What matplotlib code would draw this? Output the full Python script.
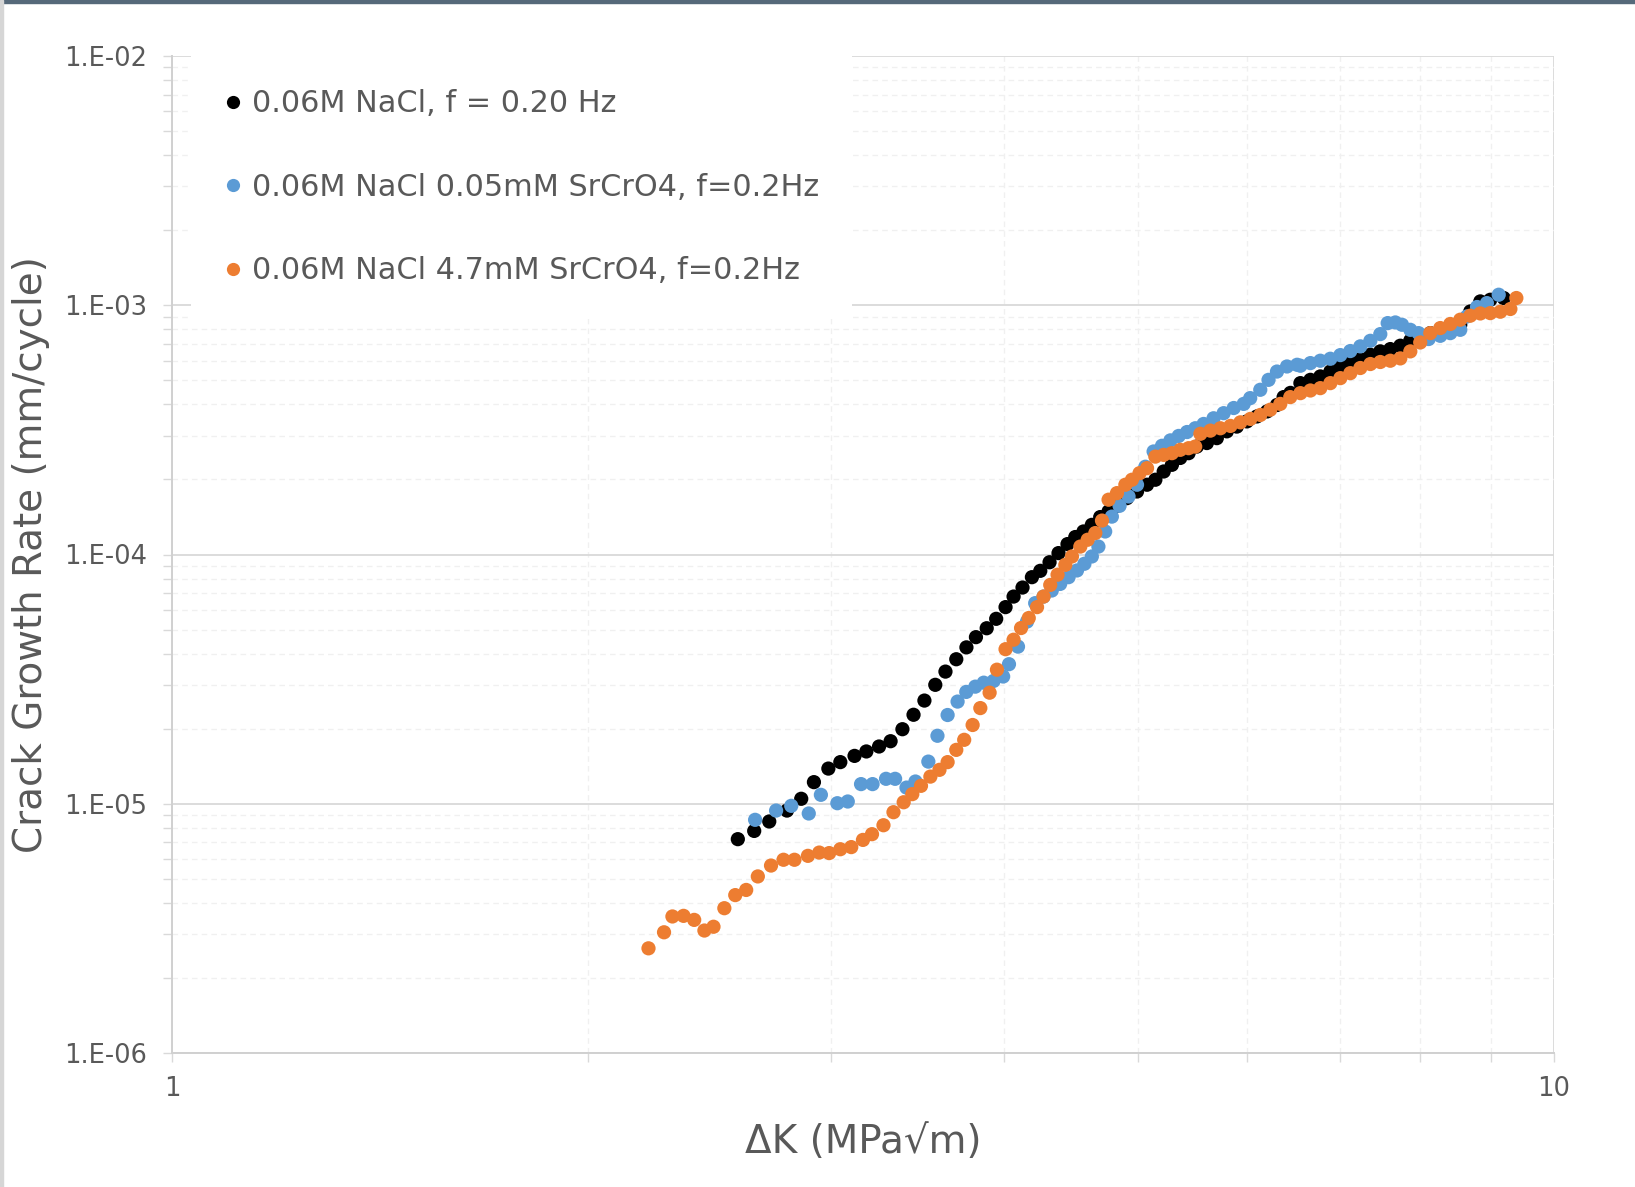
import matplotlib
matplotlib.use("Agg")
import matplotlib.pyplot as plt
from matplotlib.ticker import LogLocator, FuncFormatter, NullFormatter
from matplotlib.lines import Line2D
import numpy as np

# ---------------- data ----------------
series_labels = [
    "0.06M NaCl, f = 0.20 Hz",
    "0.06M NaCl 0.05mM SrCrO4, f=0.2Hz",
    "0.06M NaCl 4.7mM SrCrO4, f=0.2Hz",
]
series_colors = ["#000000", "#5b9bd5", "#ed7d31"]

dk_black = [2.567, 2.638, 2.705, 2.786, 2.853, 2.914, 2.985, 3.045, 3.118, 3.180,
            3.248, 3.311, 3.377, 3.440, 3.503, 3.567, 3.628, 3.694, 3.757, 3.817,
            3.886, 3.948, 4.010, 4.064, 4.125, 4.190, 4.249, 4.315, 4.380, 4.446,
            4.504, 4.566, 4.630, 4.695, 4.761, 4.828, 4.909, 4.992, 5.076, 5.147,
            5.219, 5.291, 5.365, 5.440, 5.515, 5.608, 5.702, 5.798, 5.895, 5.995,
            6.096, 6.200, 6.303, 6.373, 6.446, 6.554, 6.664, 6.775, 6.889, 7.005,
            7.122, 7.242, 7.364, 7.487, 7.613, 7.741, 7.871, 8.002, 8.137, 8.274,
            8.413, 8.554, 8.698, 8.845, 8.993, 9.196]
dadn_black = [7.21e-6, 7.78e-6, 8.49e-6, 9.39e-6, 1.047e-5, 1.221e-5, 1.384e-5, 1.469e-5, 1.556e-5, 1.621e-5,
              1.697e-5, 1.782e-5, 1.991e-5, 2.275e-5, 2.594e-5, 3.00e-5, 3.39e-5, 3.80e-5, 4.24e-5, 4.66e-5,
              5.06e-5, 5.52e-5, 6.15e-5, 6.78e-5, 7.37e-5, 8.11e-5, 8.60e-5, 9.31e-5, 1.013e-4, 1.101e-4,
              1.175e-4, 1.237e-4, 1.315e-4, 1.413e-4, 1.489e-4, 1.568e-4, 1.683e-4, 1.790e-4, 1.905e-4, 1.995e-4,
              2.153e-4, 2.29e-4, 2.44e-4, 2.55e-4, 2.71e-4, 2.80e-4, 2.93e-4, 3.12e-4, 3.26e-4, 3.42e-4,
              3.58e-4, 3.75e-4, 3.98e-4, 4.28e-4, 4.45e-4, 4.87e-4, 5.02e-4, 5.18e-4, 5.42e-4, 5.65e-4,
              5.86e-4, 6.08e-4, 6.33e-4, 6.53e-4, 6.67e-4, 6.88e-4, 7.22e-4, 7.49e-4, 7.73e-4, 7.78e-4,
              7.81e-4, 8.35e-4, 9.44e-4, 1.036e-3, 1.052e-3, 1.069e-3]

dk_blue = [2.642, 2.736, 2.806, 2.889, 2.948, 3.030, 3.083, 3.152, 3.213, 3.286,
           3.336, 3.400, 3.451, 3.526, 3.580, 3.641, 3.702, 3.756, 3.813, 3.867,
           3.931, 3.994, 4.033, 4.094, 4.156, 4.213, 4.272, 4.331, 4.392, 4.454,
           4.517, 4.573, 4.630, 4.681, 4.734, 4.787, 4.849, 4.922, 4.992, 5.062,
           5.132, 5.204, 5.278, 5.351, 5.426, 5.501, 5.578, 5.671, 5.767, 5.865,
           5.963, 6.028, 6.130, 6.215, 6.303, 6.409, 6.518, 6.554, 6.664, 6.775,
           6.889, 7.005, 7.122, 7.242, 7.364, 7.487, 7.580, 7.677, 7.763, 7.871,
           7.980, 8.115, 8.274, 8.413, 8.554, 8.650, 8.797, 8.942, 9.120]
dadn_blue = [8.62e-6, 9.39e-6, 9.81e-6, 9.14e-6, 1.086e-5, 1.005e-5, 1.021e-5, 1.199e-5, 1.199e-5, 1.259e-5,
             1.259e-5, 1.161e-5, 1.228e-5, 1.476e-5, 1.874e-5, 2.27e-5, 2.57e-5, 2.81e-5, 2.95e-5, 3.06e-5,
             3.11e-5, 3.24e-5, 3.63e-5, 4.27e-5, 5.38e-5, 6.38e-5, 6.78e-5, 7.17e-5, 7.62e-5, 8.11e-5,
             8.63e-5, 9.18e-5, 9.82e-5, 1.076e-4, 1.237e-4, 1.419e-4, 1.568e-4, 1.710e-4, 1.905e-4, 2.25e-4,
             2.59e-4, 2.73e-4, 2.87e-4, 2.99e-4, 3.10e-4, 3.21e-4, 3.34e-4, 3.52e-4, 3.69e-4, 3.87e-4,
             4.02e-4, 4.24e-4, 4.58e-4, 5.02e-4, 5.42e-4, 5.68e-4, 5.77e-4, 5.72e-4, 5.86e-4, 5.99e-4,
             6.10e-4, 6.31e-4, 6.55e-4, 6.84e-4, 7.20e-4, 7.66e-4, 8.48e-4, 8.53e-4, 8.35e-4, 7.97e-4,
             7.73e-4, 7.32e-4, 7.54e-4, 7.73e-4, 7.97e-4, 9.02e-4, 9.84e-4, 1.020e-3, 1.102e-3]

dk_orange = [2.212, 2.270, 2.302, 2.345, 2.387, 2.428, 2.465, 2.510, 2.556, 2.603,
             2.654, 2.713, 2.770, 2.821, 2.885, 2.940, 2.989, 3.045, 3.101, 3.162,
             3.210, 3.272, 3.327, 3.384, 3.433, 3.483, 3.538, 3.592, 3.641, 3.694,
             3.743, 3.796, 3.845, 3.905, 3.953, 4.010, 4.064, 4.115, 4.168, 4.226,
             4.272, 4.320, 4.373, 4.430, 4.479, 4.542, 4.598, 4.657, 4.709, 4.761,
             4.828, 4.896, 4.950, 5.013, 5.076, 5.147, 5.219, 5.291, 5.365, 5.440,
             5.500, 5.548, 5.641, 5.736, 5.833, 5.930, 6.030, 6.131, 6.233, 6.338,
             6.444, 6.554, 6.664, 6.775, 6.889, 7.005, 7.122, 7.242, 7.364, 7.487,
             7.613, 7.741, 7.871, 8.002, 8.137, 8.274, 8.413, 8.554, 8.698, 8.845,
             8.993, 9.145, 9.299, 9.392]
dadn_orange = [2.63e-6, 3.05e-6, 3.53e-6, 3.55e-6, 3.42e-6, 3.10e-6, 3.21e-6, 3.81e-6, 4.30e-6, 4.51e-6,
               5.11e-6, 5.65e-6, 5.96e-6, 5.96e-6, 6.18e-6, 6.37e-6, 6.34e-6, 6.57e-6, 6.70e-6, 7.16e-6,
               7.55e-6, 8.20e-6, 9.25e-6, 1.014e-5, 1.093e-5, 1.180e-5, 1.285e-5, 1.368e-5, 1.469e-5, 1.645e-5,
               1.805e-5, 2.07e-5, 2.42e-5, 2.79e-5, 3.45e-5, 4.17e-5, 4.55e-5, 5.07e-5, 5.56e-5, 6.15e-5,
               6.78e-5, 7.55e-5, 8.30e-5, 9.09e-5, 9.82e-5, 1.076e-4, 1.146e-4, 1.219e-4, 1.368e-4, 1.659e-4,
               1.763e-4, 1.905e-4, 1.995e-4, 2.12e-4, 2.22e-4, 2.47e-4, 2.51e-4, 2.55e-4, 2.63e-4, 2.67e-4,
               2.71e-4, 3.05e-4, 3.14e-4, 3.21e-4, 3.28e-4, 3.39e-4, 3.50e-4, 3.63e-4, 3.81e-4, 4.02e-4,
               4.28e-4, 4.44e-4, 4.55e-4, 4.65e-4, 4.87e-4, 5.10e-4, 5.34e-4, 5.60e-4, 5.81e-4, 5.92e-4,
               5.99e-4, 6.12e-4, 6.53e-4, 7.09e-4, 7.73e-4, 8.10e-4, 8.41e-4, 8.75e-4, 9.08e-4, 9.27e-4,
               9.30e-4, 9.42e-4, 9.66e-4, 1.069e-3]

x_label = "ΔK (MPa√m)"
y_label = "Crack Growth Rate (mm/cycle)"
x_limits = (1, 10)
y_limits = (1e-6, 1e-2)

# ---------------- figure ----------------
plt.rcParams['font.family'] = ['DejaVu Sans']
TXT = "#595959"
W, H = 1635, 1187
fig = plt.figure(figsize=(W / 100, H / 100), dpi=100)
ax = fig.add_axes([172 / W, 1 - 1053 / H, 1382 / W, 997 / H])

xs = [dk_black, dk_blue, dk_orange]
ys = [dadn_black, dadn_blue, dadn_orange]
for x, y, c, lab in zip(xs, ys, series_colors, series_labels):
    ax.scatter(x, y, s=105, color=c, edgecolors='none', label=lab, zorder=3)

ax.set_xscale('log')
ax.set_yscale('log')
ax.set_xlim(*x_limits)
ax.set_ylim(*y_limits)

ax.xaxis.set_major_locator(LogLocator(base=10, numticks=10))
ax.xaxis.set_minor_locator(LogLocator(base=10, subs=np.arange(2, 10), numticks=20))
ax.yaxis.set_major_locator(LogLocator(base=10, numticks=10))
ax.yaxis.set_minor_locator(LogLocator(base=10, subs=np.arange(2, 10), numticks=20))
ax.xaxis.set_major_formatter(FuncFormatter(lambda v, p: f"{v:g}"))
ax.yaxis.set_major_formatter(FuncFormatter(lambda v, p: f"1.E-{int(round(-np.log10(v))):02d}"))
ax.xaxis.set_minor_formatter(NullFormatter())
ax.yaxis.set_minor_formatter(NullFormatter())

ax.grid(which='major', color='#d9d9d9', linewidth=1.3, linestyle='-', zorder=0)
ax.grid(which='minor', color='#f0f0f0', linewidth=1.0, linestyle=(0, (4, 3)), zorder=0)
ax.set_axisbelow(True)

for s in ['top', 'right']:
    ax.spines[s].set_visible(False)
for s in ['left', 'bottom']:
    ax.spines[s].set_color('#d0d0d0')
    ax.spines[s].set_linewidth(1.4)

ax.tick_params(axis='both', which='both', direction='out', length=6.5, width=1.0,
               color='#d9d9d9', labelcolor=TXT, labelsize=18.5)
ax.tick_params(axis='y', which='major', pad=11.5)
ax.tick_params(axis='x', which='major', pad=10)

ax.set_xlabel(x_label, fontsize=28, color=TXT, va='center')
ax.set_ylabel(y_label, fontsize=28, color=TXT, va='center')
ax.xaxis.set_label_coords(0.5, -(1142 - 1053) / 997)
ax.yaxis.set_label_coords((31 - 172) / 1382, 0.5)

handles = [Line2D([], [], marker='o', linestyle='none', markersize=9.5, markerfacecolor=c,
                  markeredgecolor='none') for c in series_colors]
leg = ax.legend(handles, series_labels, loc='upper left', bbox_to_anchor=(0.0138, 1.0),
                borderaxespad=0, frameon=True, fancybox=False, framealpha=1.0,
                facecolor='white', edgecolor='none', fontsize=21.8,
                handlelength=0.6, handletextpad=0.3, labelspacing=1.8,
                borderpad=1.1, labelcolor=TXT)
leg.set_zorder(5)

# screenshot frame
fig.patches.append(plt.Rectangle((0, 1 - 3 / H), 1, 3 / H, transform=fig.transFigure,
                                 color='#56697a', zorder=10))
fig.patches.append(plt.Rectangle((0, 0), 2.5 / W, 1, transform=fig.transFigure,
                                 color='#d6d6d6', zorder=10))

fig.savefig("out.png", dpi=100)
